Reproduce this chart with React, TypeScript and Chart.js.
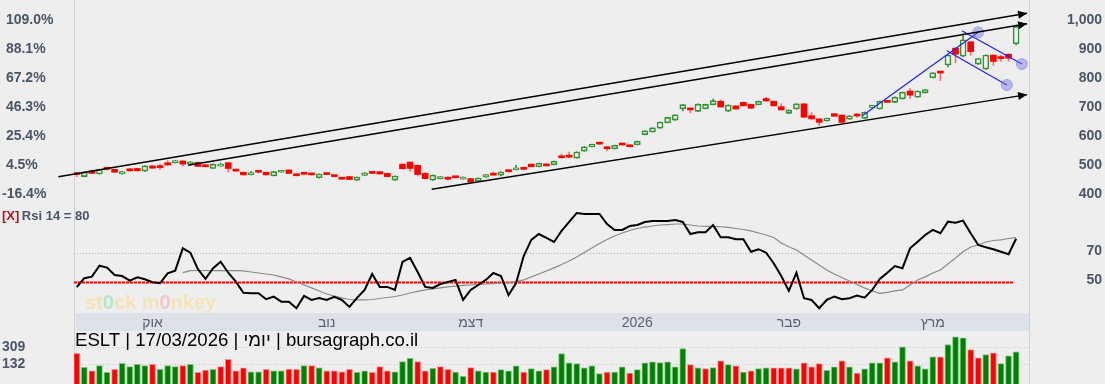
import React, { useEffect, useRef } from 'react';
import { Chart, registerables } from 'chart.js';
Chart.register(...registerables);

// ---------- DATA ----------
const OPEN = [471,460,480,469,486,485,469,481,488,479, 497,498,508,508,514,503,509,495,488,496,
  508,483,475,467,476,475,463,475,483,468, 469,467,456,468,461,456,460,448,464,472,
  477,471,448,503,510,499,471,448,453,458, 457,451,453,446,458,466,465,478,483,492,
  503,494,503,501,526,534,524,548,563,577, 563,556,574,569,570,605,614,627,646,655,
  694,691,685,694,708,720,686,704,716,709, 708,729,720,701,678,693,711,670,659,652,
  677,672,658,671,661,699,693,717,716,728, 755,734,749,801,818,845,903,875,925,848,
  831,879,868,882,918];
const HIGH = [474,477,482,486,488,486,478,488,489,498, 498,503,515,516,515,512,510,503,504,507,
  509,484,476,478,477,476,478,481,484,469, 470,472,470,470,462,457,461,459,474,473,
  478,472,463,504,511,500,474,466,461,459, 458,459,454,456,468,476,477,484,499,493,
  504,507,504,514,538,545,546,564,572,578, 564,569,575,570,583,619,629,649,665,674,
  709,692,711,710,727,724,708,705,717,710, 721,733,721,711,690,712,712,681,660,662,
  678,673,671,678,683,706,721,718,735,752, 764,756,761,819,819,880,905,953,927,868,
  880,880,879,883,979];
const LOW = [460,459,470,468,483,474,468,478,479,478, 488,485,499,507,496,502,494,493,487,495,
  476,477,465,466,473,465,462,474,470,462, 466,465,455,466,459,450,449,447,463,470,
  468,459,447,486,478,462,452,447,452,448, 455,450,440,445,457,464,462,475,482,484,
  493,493,496,500,524,525,523,547,562,571, 549,555,568,562,569,604,613,626,645,654,
  687,680,684,693,707,699,684,692,703,694, 707,720,703,689,677,692,663,658,635,651,
  667,646,657,664,660,694,692,715,715,727, 730,733,748,800,791,838,853,873,879,846,
  829,844,857,858,914];
const CLOSE = [467,476,471,485,485,475,477,480,480,497, 489,491,500,515,503,511,495,494,503,502,
  488,479,466,474,475,466,477,480,471,463, 468,466,469,467,460,451,450,458,473,471,
  469,460,462,487,488,467,453,465,460,451, 456,458,441,455,467,465,476,477,487,485,
  494,506,497,513,525,527,545,563,571,572, 556,568,569,563,582,618,628,648,664,673,
  708,690,710,709,722,700,707,693,704,696, 720,721,704,690,689,711,665,659,647,661,
  668,647,670,669,682,701,720,716,734,751, 741,755,760,818,817,879,882,932,891,867,
  879,857,867,868,978];
const VOLUME = [243,104,70,120,54,84,144,110,134,120, 134,84,120,110,120,134,54,77,84,110,
  184,70,100,60,60,84,70,70,87,84, 120,120,100,70,70,60,84,54,70,54,
  110,70,60,160,194,160,70,94,110,84, 57,15,101,68,57,57,81,68,118,57,
  91,68,81,108,241,148,141,98,118,42, 57,57,108,47,81,148,158,151,158,108,
  291,131,98,91,101,168,131,118,57,68, 91,98,98,98,98,88,148,108,141,74,
  108,168,108,47,88,148,148,198,158,308, 168,118,88,208,208,331,407,397,281,198,
  231,247,141,217,257];
const RSI = [46.6,52.8,53.9,61.4,60.1,55,54.3,51.1,53.4,52.1, 50,49.3,56.2,58,73.4,70.4,59,52.3,59.7,64.2,
  56.6,50.4,42.8,42.4,42.4,38.3,40.1,36.6,36.6,32.1, 40.6,37.8,39.2,37.8,39.9,37.8,33,39.2,44.7,55.7,
  46.8,46.8,44.7,64,66.8,57.1,46.8,46.1,48.8,50.2, 51.6,37.8,44.7,48.1,51.6,56.4,54.3,41.2,49.5,68.1,
  79.2,83.3,80.6,77.8,85.4,91.6,97.8,97.1,97.1,97.1, 90.2,86.1,86.1,88.8,89.5,91.6,92.3,92.3,92.3,93,
  91.6,83.3,84.5,84.5,89.5,81,81,79.7,79.7,71.1, 72.8,70.4,63.1,54.3,44,56.6,39,37.8,32.1,37.8,
  40.1,38.3,39,40.8,39.4,44.7,52.3,56.6,61.2,59.7, 73.4,78,82.6,86.1,83.8,91.8,91.1,92.5,83.8,75.7,
  74.1,72.8,71.1,69.3,80];
const RSI_MA = [null,null,null,null,null,null,null,null,null,null, null,null,null,null,56.6,58,58.1,58.1,58,58,
  58.1,58,57.8,57.1,56.4,55.7,55,53.7,52.3,50.2, 48.1,46.1,44,41.9,40.5,39.2,38.1,37.8,37.8,38.1,
  38.8,39.5,40.2,41.2,42.6,43.7,44.7,45.4,46.1,46.8, 47.4,47.8,48.1,48.5,48.8,49.1,49.5,49.8,50.5,51.6,
  53.7,55.7,57.8,59.9,62.3,64.7,67.4,70.5,73.7,76.7, 79.5,81.9,84,85.7,87.1,88.1,88.8,89.5,89.8,90.2,
  90.2,89.5,88.8,88.6,88.5,88.3,87.9,87.1,86.4,85.4, 84,82.6,80.9,77.1,74.5,72.3,68.8,65.4,61.9,58.5,
  55.7,53.3,50.9,48.5,46.1,44,42.4,43,44,44.7, 48.1,51.6,53.7,56.4,58.5,62.6,66.8,71.1,74.3,75.7,
  77.8,78.8,79.2,80.2,80.8];
const MONTH_IDX = [10, 33, 52, 74, 94, 113];
const MONTH_LABELS = ['אוק', 'נוב', 'דצמ', '2026', 'פבר', 'מרץ'];
const PRICE_TICKS = [400, 500, 600, 700, 800, 900, 1000];
const BASE_PRICE = 478.5;
const RSI_TICKS = [70, 50];
const RSI_LEVELS = [70, 50];
const VOL_TICKS = [309, 132];
// trend lines: [index, price] endpoints
const BLACK_LINES = [
  [[-2.43, 459.7], [125.45, 1023.4]],
  [[14.69, 499.0], [125.45, 987.2]],
  [[46.86, 416.2], [125.45, 742.8]],
];
const BLUE_LINES = [
  [[103.71, 670.0], [118.99, 957.6]],
  [[116.84, 963.1], [124.76, 848.3]],
  [[114.85, 894.2], [122.77, 775.9]],
];
const TITLE = 'ESLT | 17/03/2026 | יומי | bursagraph.co.il';
const RSI_PERIOD = 14;

// ---------- STYLE / LAYOUT ----------
const FONT = '"Liberation Sans", Arial, Helvetica, sans-serif';
const BG = '#eeeeee';
const FRAME = '#d2d2d2';
const AXIS_TEXT = '#4a5568';
const GREEN = '#359535';
const HOLLOW = '#f2f2f2';
const RED = '#ff0000';
const RED_WICK = '#ff6a6a';
const VOL_GREEN = '#008000';
const VOL_GREEN_EDGE = '#7cc47c';
const VOL_RED = '#ff0000';
const VOL_RED_EDGE = '#ff8c8c';
const W = 1105, PRICE_H = 205, RSI_H = 126, VOL_H = 53;
const PAD_L = 2, LEFT_W = 72, PAD_R = 3, RIGHT_W = 73;
const X_MIN = -0.36, X_MAX = 125.7;
const PRICE_MIN = 362.1, PRICE_MAX = 1069;
const RSI_MIN = 28.8, RSI_MAX = 103.3;
const VOL_MIN = -62, VOL_MAX = 465;
const TICK_FONT = { family: FONT, size: 14, weight: 'bold' };

const isUp = (i: number) => CLOSE[i] >= OPEN[i];
const volUp = (i: number) => (i === 0 ? CLOSE[0] >= OPEN[0] : CLOSE[i] >= CLOSE[i - 1]);
const fixW = (w: number) => (s: any) => { s.width = w; s.paddingTop = 0; s.paddingBottom = 0; };
const setTicks = (vals: number[]) => (s: any) => { s.ticks = vals.map((v) => ({ value: v })); };
const xHidden = { type: 'linear', min: X_MIN, max: X_MAX, offset: false, display: false, grid: { offset: false } };
const baseOpts = (padding: any) => ({
  responsive: false,
  animation: false,
  devicePixelRatio: 1,
  events: [],
  layout: { padding, autoPadding: false },
  plugins: { legend: { display: false }, tooltip: { enabled: false } },
});

const framePlugin = {
  id: 'frame',
  beforeDatasetsDraw(chart: any) {
    const { ctx, chartArea, height } = chart;
    ctx.save();
    ctx.strokeStyle = FRAME;
    ctx.lineWidth = 1;
    ctx.beginPath();
    ctx.moveTo(Math.round(chartArea.left) + 0.5, 0);
    ctx.lineTo(Math.round(chartArea.left) + 0.5, height);
    ctx.moveTo(Math.round(chartArea.right) + 0.5, 0);
    ctx.lineTo(Math.round(chartArea.right) + 0.5, height);
    ctx.stroke();
    ctx.restore();
  },
};

function makePrice(canvas: HTMLCanvasElement) {
  const arrowPlugin = {
    id: 'arrows',
    afterDatasetsDraw(chart: any) {
      const ctx = chart.ctx;
      BLACK_LINES.forEach((_, di) => {
        const pts = chart.getDatasetMeta(di).data;
        const a = pts[pts.length - 2], b = pts[pts.length - 1];
        const ang = Math.atan2(b.y - a.y, b.x - a.x);
        const L = 9, H = 4;
        ctx.save();
        ctx.fillStyle = '#000';
        ctx.beginPath();
        ctx.moveTo(b.x, b.y);
        ctx.lineTo(b.x - L * Math.cos(ang) + H * Math.sin(ang), b.y - L * Math.sin(ang) - H * Math.cos(ang));
        ctx.lineTo(b.x - L * Math.cos(ang) - H * Math.sin(ang), b.y - L * Math.sin(ang) + H * Math.cos(ang));
        ctx.closePath();
        ctx.fill();
        ctx.restore();
      });
    },
  };
  const lineSet = (l: number[][], color: string, width: number, circle: boolean) => ({
    type: 'line',
    data: l.map(([x, y]) => ({ x, y })),
    borderColor: color,
    borderWidth: width,
    pointRadius: (c: any) => (circle && c.dataIndex === 1 ? 5.5 : 0),
    pointBackgroundColor: 'rgba(110,110,235,0.42)',
    pointBorderColor: 'rgba(110,110,235,0.5)',
    pointBorderWidth: 1,
    clip: false,
    order: 0,
  });
  return new Chart(canvas, {
    type: 'bar',
    data: {
      datasets: [
        ...BLACK_LINES.map((l) => lineSet(l, '#000000', 1.4, false)),
        ...BLUE_LINES.map((l) => lineSet(l, '#1f1fff', 1.2, true)),
        {
          type: 'bar',
          data: OPEN.map((o, i) => ({ x: i, y: [o, CLOSE[i]] })),
          backgroundColor: (c: any) => (isUp(c.dataIndex) ? HOLLOW : RED),
          borderColor: (c: any) => (isUp(c.dataIndex) ? GREEN : RED),
          borderWidth: (c: any) => (isUp(c.dataIndex) ? 1.6 : 0),
          borderSkipped: false,
          barThickness: 6,
          minBarLength: 2,
          grouped: false,
          order: 1,
        },
        {
          type: 'bar',
          data: LOW.map((l, i) => ({ x: i, y: [l, HIGH[i]] })),
          backgroundColor: (c: any) => (isUp(c.dataIndex) ? GREEN : RED_WICK),
          borderWidth: 0,
          barThickness: 1,
          minBarLength: 1,
          grouped: false,
          order: 2,
        },
      ],
    },
    options: {
      ...baseOpts({ left: PAD_L, right: PAD_R, top: 0, bottom: 0 }),
      scales: {
        x: xHidden,
        yPct: {
          position: 'left', min: PRICE_MIN, max: PRICE_MAX,
          afterFit: fixW(LEFT_W), afterBuildTicks: setTicks(PRICE_TICKS),
          ticks: {
            crossAlign: 'far', padding: 0, font: TICK_FONT, color: AXIS_TEXT,
            callback: (v: any) => {
              const p = (Number(v) / BASE_PRICE - 1) * 100;
              return (p >= 0 ? ' ' : '') + p.toFixed(1) + '%';
            },
          },
          grid: { display: false, drawTicks: false }, border: { display: false },
        },
        y: {
          position: 'right', min: PRICE_MIN, max: PRICE_MAX,
          afterFit: fixW(RIGHT_W), afterBuildTicks: setTicks(PRICE_TICKS),
          ticks: {
            crossAlign: 'far', padding: 0, font: TICK_FONT, color: AXIS_TEXT,
            callback: (v: any) => Number(v).toLocaleString('en-US'),
          },
          grid: { display: false, drawTicks: false }, border: { display: false },
        },
      },
    },
    plugins: [framePlugin, arrowPlugin],
  } as any);
}

function makeRsi(canvas: HTMLCanvasElement) {
  const rsiPlugin = {
    id: 'rsiExtras',
    beforeDraw(chart: any) {
      const { ctx, chartArea, height } = chart;
      ctx.save();
      ctx.fillStyle = '#dde2e9';
      ctx.fillRect(chartArea.left + 2, chartArea.bottom, chartArea.right - chartArea.left - 2, height - chartArea.bottom);
      ctx.restore();
    },
    beforeDatasetsDraw(chart: any) {
      const { ctx, chartArea, scales } = chart;
      // watermark
      ctx.save();
      ctx.font = `bold 20px ${FONT}`;
      ctx.textBaseline = 'middle';
      const parts: [string, string][] = [
        ['st', 'rgba(250,215,110,0.45)'], ['0', 'rgba(120,220,150,0.45)'], ['ck m', 'rgba(250,215,110,0.45)'],
        ['0', 'rgba(250,150,150,0.45)'], ['nkey', 'rgba(250,215,110,0.45)'],
      ];
      let x = chartArea.left + 11;
      const y = scales.y.getPixelForValue(RSI_MIN) - 10;
      parts.forEach(([t, c]) => { ctx.fillStyle = c; ctx.fillText(t, x, y); x += ctx.measureText(t).width; });
      ctx.restore();
      // level lines
      const xEnd = scales.x.getPixelForValue(RSI.length - 1) - 3;
      RSI_LEVELS.forEach((lv, k) => {
        const py = Math.round(scales.y.getPixelForValue(lv)) + 0.5;
        ctx.save();
        ctx.beginPath();
        if (k === 0) { ctx.strokeStyle = '#b0b0b0'; ctx.lineWidth = 1; ctx.setLineDash([1, 2]); }
        else { ctx.strokeStyle = '#ff0000'; ctx.lineWidth = 2; ctx.setLineDash([3, 1]); }
        ctx.moveTo(chartArea.left, py);
        ctx.lineTo(xEnd, py);
        ctx.stroke();
        ctx.restore();
      });
    },
    afterDraw(chart: any) {
      const { ctx } = chart;
      ctx.save();
      ctx.font = `bold 13px ${FONT}`;
      ctx.textBaseline = 'middle';
      ctx.fillStyle = '#b01818';
      ctx.fillText('[X]', 2, 11.5);
      const w = ctx.measureText('[X]').width;
      ctx.fillStyle = AXIS_TEXT;
      ctx.fillText(`Rsi ${RSI_PERIOD} = ${Math.round(RSI[RSI.length - 1])}`, 2 + w + 2.5, 11.5);
      ctx.restore();
    },
  };
  return new Chart(canvas, {
    type: 'line',
    data: {
      datasets: [
        { data: RSI.map((v, i) => ({ x: i, y: v })), borderColor: '#000000', borderWidth: 2, pointRadius: 0, tension: 0 },
        { data: RSI_MA.map((v, i) => ({ x: i, y: v })), borderColor: '#8a8a8a', borderWidth: 1.2, pointRadius: 0, tension: 0 },
      ],
    },
    options: {
      ...baseOpts({ left: PAD_L + LEFT_W, right: PAD_R, top: 0, bottom: 0 }),
      scales: {
        x: {
          type: 'linear', min: X_MIN, max: X_MAX, position: 'bottom', offset: false,
          afterFit: (s: any) => { s.height = RSI_H - 108; s.paddingLeft = 0; s.paddingRight = 0; },
          afterBuildTicks: setTicks(MONTH_IDX),
          ticks: {
            autoSkip: false, maxRotation: 0, padding: 2, font: { family: FONT, size: 14 }, color: '#5a6270',
            callback: (v: any) => MONTH_LABELS[MONTH_IDX.indexOf(Number(v))],
          },
          grid: { display: false, drawTicks: false }, border: { display: false },
        },
        y: {
          position: 'right', min: RSI_MIN, max: RSI_MAX,
          afterFit: fixW(RIGHT_W), afterBuildTicks: setTicks(RSI_TICKS),
          ticks: { crossAlign: 'far', padding: 0, labelOffset: -2.5, font: TICK_FONT, color: AXIS_TEXT },
          grid: { display: false, drawTicks: false }, border: { display: false },
        },
      },
    },
    plugins: [framePlugin, rsiPlugin],
  } as any);
}

function makeVol(canvas: HTMLCanvasElement) {
  const volPlugin = {
    id: 'volExtras',
    beforeDatasetsDraw(chart: any) {
      const { ctx, chartArea, scales } = chart;
      ctx.save();
      ctx.strokeStyle = '#c9c9c9';
      ctx.lineWidth = 1;
      ctx.setLineDash([1, 2]);
      VOL_TICKS.forEach((v) => {
        const py = Math.round(scales.y.getPixelForValue(v)) + 0.5;
        ctx.beginPath();
        ctx.moveTo(chartArea.left + 2, py);
        ctx.lineTo(chartArea.right, py);
        ctx.stroke();
      });
      ctx.restore();
    },
    afterDatasetsDraw(chart: any) {
      const { ctx, chartArea } = chart;
      ctx.save();
      ctx.font = `18.6px ${FONT}`;
      ctx.fillStyle = '#000000';
      ctx.textBaseline = 'alphabetic';
      ctx.fillText(TITLE, chartArea.left + 1, 15);
      ctx.restore();
    },
  };
  return new Chart(canvas, {
    type: 'bar',
    data: {
      datasets: [
        {
          data: VOLUME.map((v, i) => ({ x: i, y: v })),
          base: VOL_MIN,
          backgroundColor: (c: any) => (volUp(c.dataIndex) ? VOL_GREEN : VOL_RED),
          borderColor: (c: any) => (volUp(c.dataIndex) ? VOL_GREEN_EDGE : VOL_RED_EDGE),
          borderWidth: 1,
          borderSkipped: 'start',
          barThickness: 6,
          grouped: false,
        },
      ],
    },
    options: {
      ...baseOpts({ left: PAD_L, right: PAD_R + RIGHT_W, top: 0, bottom: 0 }),
      scales: {
        x: xHidden,
        y: {
          position: 'left', min: VOL_MIN, max: VOL_MAX,
          afterFit: fixW(LEFT_W), afterBuildTicks: setTicks(VOL_TICKS),
          ticks: { crossAlign: 'far', padding: 0, font: TICK_FONT, color: AXIS_TEXT },
          grid: { display: false, drawTicks: false }, border: { display: false },
        },
      },
    },
    plugins: [framePlugin, volPlugin],
  } as any);
}

export default function App() {
  const pRef = useRef<HTMLCanvasElement>(null);
  const rRef = useRef<HTMLCanvasElement>(null);
  const vRef = useRef<HTMLCanvasElement>(null);
  useEffect(() => {
    Chart.defaults.font.family = FONT;
    const charts = [makePrice(pRef.current!), makeRsi(rRef.current!), makeVol(vRef.current!)];
    return () => charts.forEach((c) => c.destroy());
  }, []);
  return (
    <div style={{ position: 'absolute', left: 0, top: 0, width: W, height: PRICE_H + RSI_H + VOL_H, background: BG, overflow: 'hidden' }}>
      <canvas ref={pRef} width={W} height={PRICE_H} style={{ position: 'absolute', left: 0, top: 0 }} />
      <canvas ref={rRef} width={W} height={RSI_H} style={{ position: 'absolute', left: 0, top: PRICE_H }} />
      <canvas ref={vRef} width={W} height={VOL_H} style={{ position: 'absolute', left: 0, top: PRICE_H + RSI_H }} />
    </div>
  );
}
